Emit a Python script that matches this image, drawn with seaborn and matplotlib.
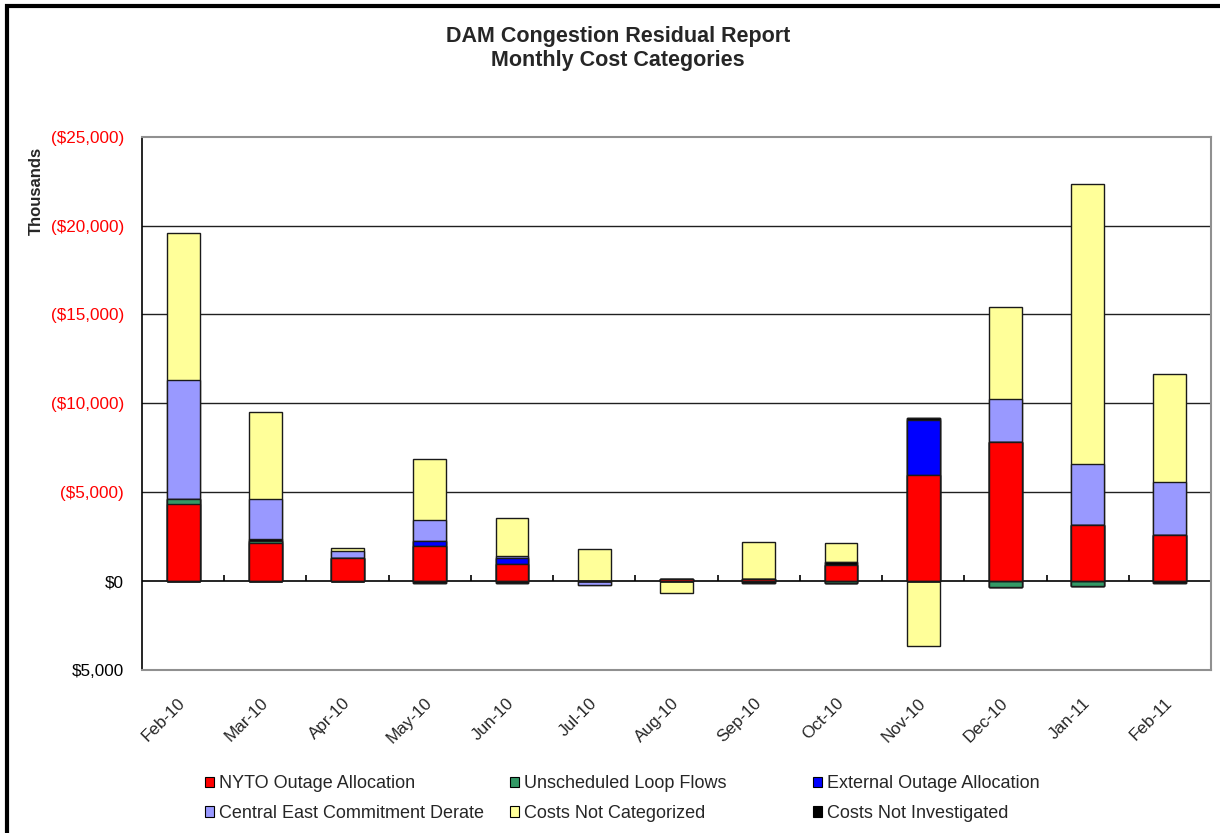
import numpy as np
import matplotlib
matplotlib.use("Agg")
import matplotlib.pyplot as plt
import seaborn as sns
from matplotlib.patches import Patch, Rectangle

# values in thousands of $, positive = cost (drawn upward)
months = ["Feb-10", "Mar-10", "Apr-10", "May-10", "Jun-10", "Jul-10", "Aug-10",
          "Sep-10", "Oct-10", "Nov-10", "Dec-10", "Jan-11", "Feb-11"]
nyto_outage = [4350, 2150, 1310, 1970, 990, 0, 130, 130, 900, 5990, 7810, 3150, 2620]
loop_flows = [250, 100, 0, 0, 0, 0, 0, 0, -80, 0, -340, -260, 0]
external_outage = [0, 0, 0, 280, 300, 0, 0, 0, 0, 3100, 0, 0, 0]
not_investigated = [0, 100, 0, -100, -100, 0, 0, -100, 180, 100, 0, 0, -100]
central_east = [6700, 2250, 380, 1160, 100, -200, 0, 0, 0, 0, 2440, 3420, 2960]
not_categorized = [8300, 4900, 150, 3480, 2160, 1800, -690, 2060, 1070, -3650, 5150, 15760, 6070]

y_ticks = [-5000, 0, 5000, 10000, 15000, 20000, 25000]

# stacking order bottom -> top
stack = [
    ("NYTO Outage Allocation", nyto_outage, "#FF0000"),
    ("Unscheduled Loop Flows", loop_flows, "#339966"),
    ("External Outage Allocation", external_outage, "#0000FF"),
    ("Costs Not Investigated", not_investigated, "#000000"),
    ("Central East Commitment Derate", central_east, "#9999FF"),
    ("Costs Not Categorized", not_categorized, "#FFFF99"),
]
legend_cols = [
    ["NYTO Outage Allocation", "Central East Commitment Derate"],
    ["Unscheduled Loop Flows", "Costs Not Categorized"],
    ["External Outage Allocation", "Costs Not Investigated"],
]

sns.set_style("white")
plt.rcParams["font.family"] = ["Liberation Sans", "DejaVu Sans"]

fig = plt.figure(figsize=(12.2, 8.33), dpi=100)
ax = fig.add_axes([142 / 1220, 1 - 670 / 833, (1211 - 142) / 1220, (670 - 136.7) / 833])

# cumulative stacks, positives and negatives separately
pos_cum = np.zeros(len(months))
neg_cum = np.zeros(len(months))
layers = []
for name, vals, col in stack:
    v = np.array(vals, dtype=float)
    pos_cum = pos_cum + np.clip(v, 0, None)
    neg_cum = neg_cum + np.clip(v, None, 0)
    layers.append((pos_cum.copy(), neg_cum.copy(), col))

for pos, neg, col in reversed(layers):
    for h in (pos, neg):
        sns.barplot(x=months, y=h, color=col, saturation=1, width=0.4,
                    edgecolor="#1a1a1a", linewidth=1.0, errorbar=None, ax=ax)

ax.set_ylim(-5000, 25000)
ax.set_xlim(-0.5, len(months) - 0.5)
ax.set_yticks(y_ticks)
labels = []
for v in y_ticks:
    if v > 0:
        labels.append(f"(${v:,.0f})")
    elif v == 0:
        labels.append("$0")
    else:
        labels.append(f"${-v:,.0f}")
ax.set_yticklabels(labels, fontsize=12.3)
for t, v in zip(ax.get_yticklabels(), y_ticks):
    t.set_color("#FF0000" if v > 0 else "black")

ax.set_axisbelow(True)
for v in y_ticks[2:-1]:
    ax.axhline(v, color="#202020", lw=1.0, zorder=0)
ax.axhline(0, color="black", lw=1.2, zorder=0.5)
ax.vlines(np.arange(len(months) - 1) + 0.5, 0, 330, color="black", lw=1.2)

ax.tick_params(axis="y", direction="out", length=6, width=1, color="black", pad=7)
ax.tick_params(axis="x", length=0, pad=22)
ax.set_xticks(range(len(months)))
ax.set_xticklabels(months, rotation=45, ha="right", va="center",
                   rotation_mode="anchor", fontsize=12.3)
ax.set_xlabel("")
ax.set_ylabel("")

for side in ["top", "right", "bottom"]:
    ax.spines[side].set_color("#909090")
    ax.spines[side].set_linewidth(1.5)
ax.spines["left"].set_color("black")
ax.spines["left"].set_linewidth(1.2)

fig.text(618 / 1220, 1 - 48.5 / 833, "DAM Congestion Residual Report\nMonthly Cost Categories",
         ha="center", va="center", fontsize=15.5, fontweight="bold", linespacing=1.2)
fig.text(36 / 1220, 1 - 191 / 833, "Thousands", rotation=90, ha="center", va="center",
         fontsize=12, fontweight="bold")

colors = {name: col for name, vals, col in stack}
col_x = [205, 510, 813]
for x0, names in zip(col_x, legend_cols):
    handles = [Patch(facecolor=colors[n], edgecolor="black", lw=0.8) for n in names]
    fig.legend(handles, names, loc="upper left", bbox_to_anchor=(x0 / 1220, 1 - 775.5 / 833),
               frameon=False, fontsize=13, borderpad=0, borderaxespad=0,
               handlelength=0.5, handleheight=0.5, handletextpad=0.25, labelspacing=0.68)

# outer chart border
fig.add_artist(Rectangle((7 / 1220, -0.2), 1.5, 1.2 - 5.5 / 833, transform=fig.transFigure,
                         fill=False, edgecolor="black", lw=3))

fig.savefig("out.png", dpi=100, facecolor="white")
